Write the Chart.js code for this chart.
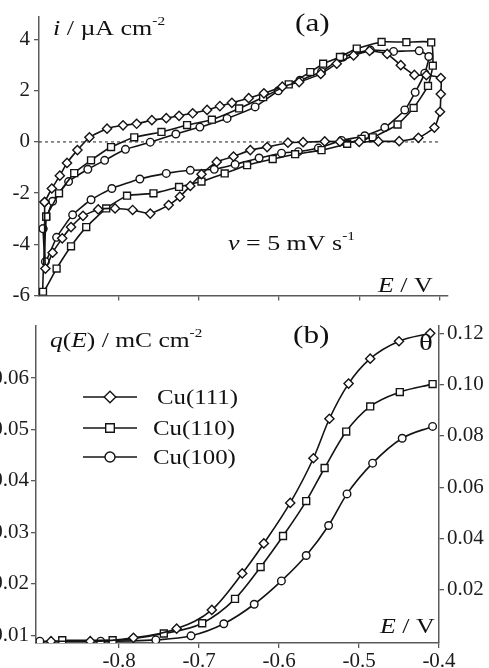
<!DOCTYPE html>
<html>
<head>
<meta charset="utf-8">
<script src="https://cdn.jsdelivr.net/npm/chart.js@4.4.0/dist/chart.umd.min.js"></script>
<style>
    html, body { margin: 0; padding: 0; background: #fff; width: 489px; height: 668px; overflow: hidden; }
    canvas { position: absolute; left: 0; }
</style>
</head>
<body>
<canvas id="ChartA" width="489" height="312" style="top:0"></canvas>
<canvas id="ChartB" width="489" height="358" style="top:310px"></canvas>
<script>
// (a) cyclic voltammograms, E in V, i in uA cm-2 (anodic sweep then cathodic sweep)
var cu111E_a = [-0.893, -0.884, -0.874, -0.865, -0.852, -0.837, -0.815, -0.795, -0.778, -0.759, -0.741, -0.725, -0.708, -0.690, -0.674, -0.659, -0.638, -0.619, -0.596, -0.575, -0.548, -0.528, -0.507, -0.487, -0.465, -0.448, -0.431, -0.416, -0.398,
    -0.398, -0.399, -0.406, -0.426, -0.450, -0.476, -0.500, -0.524, -0.543, -0.570, -0.589, -0.615, -0.636, -0.657, -0.678, -0.697, -0.711, -0.724, -0.738, -0.761, -0.783, -0.805, -0.826, -0.845, -0.860, -0.871, -0.883, -0.892];
var cu111I_a = [-2.35, -1.82, -1.32, -0.82, -0.32, 0.18, 0.52, 0.65, 0.71, 0.85, 0.93, 1.02, 1.12, 1.25, 1.40, 1.53, 1.71, 1.90, 2.16, 2.34, 2.66, 3.06, 3.38, 3.56, 3.44, 3.00, 2.62, 2.61, 2.50,
    1.87, 1.18, 0.56, 0.16, 0.03, 0.02, 0.00, 0.01, 0.02, -0.01, -0.03, -0.20, -0.32, -0.57, -0.78, -1.26, -1.72, -2.14, -2.47, -2.80, -2.66, -2.60, -2.64, -2.89, -3.33, -3.77, -4.33, -4.95];

var cu110E_a = [-0.891, -0.875, -0.856, -0.835, -0.810, -0.781, -0.747, -0.715, -0.684, -0.650, -0.620, -0.588, -0.561, -0.545, -0.524, -0.503, -0.472, -0.441, -0.410,
    -0.408, -0.414, -0.432, -0.452, -0.483, -0.497, -0.515, -0.547, -0.580, -0.608, -0.640, -0.668, -0.697, -0.725, -0.757, -0.790, -0.816, -0.841, -0.860, -0.878, -0.895];
var cu110I_a = [-2.92, -2.01, -1.22, -0.72, -0.20, 0.18, 0.39, 0.66, 0.87, 1.31, 1.75, 2.25, 2.73, 3.06, 3.32, 3.65, 3.91, 3.90, 3.89,
    2.98, 2.19, 1.33, 0.68, 0.18, 0.12, -0.07, -0.32, -0.48, -0.67, -0.91, -1.23, -1.55, -1.76, -2.01, -2.10, -2.60, -3.33, -4.08, -4.95, -5.86];

var cu100E_a = [-0.895, -0.883, -0.863, -0.839, -0.818, -0.792, -0.761, -0.729, -0.699, -0.665, -0.630, -0.601, -0.574, -0.547, -0.520, -0.486, -0.457, -0.425,
    -0.413, -0.418, -0.430, -0.443, -0.468, -0.493, -0.522, -0.551, -0.576, -0.597, -0.625, -0.655, -0.681, -0.711, -0.741, -0.774, -0.809, -0.835, -0.858, -0.878, -0.892];
var cu100I_a = [-3.39, -2.32, -1.55, -1.07, -0.72, -0.29, -0.01, 0.31, 0.58, 0.92, 1.37, 2.00, 2.41, 2.75, 3.32, 3.59, 3.54, 3.56,
    3.34, 2.69, 1.94, 1.25, 0.56, 0.24, 0.06, -0.24, -0.38, -0.44, -0.63, -0.88, -1.07, -1.11, -1.23, -1.45, -1.82, -2.26, -2.85, -3.73, -4.68];

// (b) charge / coverage curves, E in V, theta
var cu111E_b = [-0.885, -0.836, -0.782, -0.728, -0.684, -0.646, -0.619, -0.586, -0.557, -0.537, -0.513, -0.486, -0.450, -0.411];
var cu111T_b = [0.000, 0.000, 0.0013, 0.0049, 0.0122, 0.0264, 0.0381, 0.0539, 0.0713, 0.0867, 0.1004, 0.1101, 0.1169, 0.1200];
var cu110E_b = [-0.871, -0.808, -0.744, -0.696, -0.655, -0.623, -0.595, -0.566, -0.543, -0.516, -0.486, -0.449, -0.408];
var cu110T_b = [0.0004, 0.0004, 0.003, 0.007, 0.0165, 0.0289, 0.041, 0.0546, 0.0675, 0.0817, 0.0915, 0.0971, 0.1002];
var cu100E_b = [-0.899, -0.823, -0.754, -0.710, -0.669, -0.631, -0.597, -0.566, -0.538, -0.515, -0.483, -0.446, -0.408];
var cu100T_b = [0.000, 0.000, 0.0005, 0.0021, 0.0068, 0.0144, 0.0235, 0.0334, 0.0451, 0.0574, 0.0694, 0.0791, 0.0837];

var seriesNames = ['Cu(111)', 'Cu(110)', 'Cu(100)'];
var xTicks = [-0.8, -0.7, -0.6, -0.5, -0.4];
var iTicks = [-6, -4, -2, 0, 2, 4];
var qTicks = [0.01, 0.02, 0.03, 0.04, 0.05, 0.06];
var thetaTicks = [0.02, 0.04, 0.06, 0.08, 0.10, 0.12];

var FONT = '"Liberation Serif", "Times New Roman", serif';
var ink = '#141414';
var axisColor = '#5a5a5a';
var styles = ['rectRot', 'rect', 'circle'];
var radii = [4.6, 4.9, 3.8];

function toPoints(xs, ys) {
    return xs.map(function (x, k) { return { x: x, y: ys[k] }; });
}

function fixTicks(list) {
    return function (scale) {
        scale.ticks = list.map(function (v) { return { value: v }; });
    };
}

function seriesSet(points, k, tension, yAxis) {
    var ds = {
        label: seriesNames[k],
        data: points,
        showLine: true,
        borderColor: ink,
        borderWidth: 1.6,
        pointStyle: styles[k],
        pointRadius: radii[k],
        pointBackgroundColor: '#fff',
        pointBorderColor: ink,
        pointBorderWidth: 1.4,
        tension: tension
    };
    if (yAxis) ds.yAxisID = yAxis;
    return ds;
}

function marker(ctx, style, r, x, y) {
    ctx.beginPath();
    if (style === 'circle') {
        ctx.arc(x, y, r, 0, Math.PI * 2);
    } else if (style === 'rect') {
        var s = r * Math.SQRT1_2;
        ctx.rect(x - s, y - s, 2 * s, 2 * s);
    } else {
        ctx.moveTo(x, y - r); ctx.lineTo(x + r, y); ctx.lineTo(x, y + r); ctx.lineTo(x - r, y); ctx.closePath();
    }
    ctx.fillStyle = '#fff';
    ctx.fill();
    ctx.lineWidth = 1.4;
    ctx.strokeStyle = ink;
    ctx.stroke();
}

// text made of plain / italic / superscript pieces, stretched sideways like the original
function drawRich(ctx, x, y, parts, size, sx) {
    var cx = 0;
    ctx.save();
    ctx.translate(x, y);
    ctx.scale(sx || 1, 1);
    ctx.textBaseline = 'alphabetic';
    ctx.textAlign = 'left';
    ctx.fillStyle = '#111';
    parts.forEach(function (p) {
        var fs = p.sup ? Math.round(size * 0.6) : size;
        ctx.font = (p.it ? 'italic ' : '') + fs + 'px ' + FONT;
        ctx.fillText(p.t, cx, p.sup ? -size * 0.45 : 0);
        cx += ctx.measureText(p.t).width;
    });
    ctx.restore();
}

var textPlugin = {
    id: 'texts',
    afterDraw: function (chart, args, opts) {
        var ctx = chart.ctx;
        ctx.save();
        (opts.items || []).forEach(function (it) { drawRich(ctx, it.x, it.y, it.parts, it.size, it.sx); });
        (opts.legend || []).forEach(function (row, k) {
            ctx.beginPath();
            ctx.moveTo(83, row.y);
            ctx.lineTo(137, row.y);
            ctx.lineWidth = 1.6;
            ctx.strokeStyle = ink;
            ctx.stroke();
            marker(ctx, styles[k], radii[k] + 1.2, 110, row.y);
            drawRich(ctx, row.tx, row.y + 7, [{ t: seriesNames[k] }], 22, 1.13);
        });
        ctx.restore();
    }
};

function axis(extra) {
    var base = {
        type: 'linear',
        border: { display: true, color: axisColor, width: 1.5 },
        grid: { drawOnChartArea: false, drawTicks: true, tickLength: 5, color: axisColor, lineWidth: 1.3 },
        ticks: { color: '#1c1c1c', font: { family: FONT, size: 21 }, padding: 4 }
    };
    return Object.assign(base, extra);
}

// ---- panel (a)
var ctxA = document.getElementById('ChartA').getContext('2d');
var chartA = new Chart(ctxA, {
    type: 'scatter',
    data: {
        datasets: [
            seriesSet(toPoints(cu111E_a, cu111I_a).concat([{ x: cu111E_a[0], y: cu111I_a[0] }]), 0, 0.15),
            seriesSet(toPoints(cu110E_a, cu110I_a).concat([{ x: cu110E_a[0], y: cu110I_a[0] }]), 1, 0.15),
            seriesSet(toPoints(cu100E_a, cu100I_a).concat([{ x: cu100E_a[0], y: cu100I_a[0] }]), 2, 0.15),
            {
                data: [{ x: -0.9, y: 0 }, { x: -0.4, y: 0 }],
                showLine: true, borderColor: '#222', borderWidth: 1, borderDash: [3, 3], pointRadius: 0
            }
        ]
    },
    options: {
        responsive: false,
        animation: false,
        layout: { padding: { top: 10, right: 41, left: 0, bottom: 0 } },
        plugins: {
            legend: { display: false },
            tooltip: { enabled: false },
            texts: {
                items: [
                    { x: 53, y: 35, size: 22, sx: 1.18, parts: [{ t: 'i', it: 1 }, { t: ' / µA cm' }, { t: '-2', sup: 1 }] },
                    { x: 295, y: 31, size: 25, sx: 1.25, parts: [{ t: '(a)' }] },
                    { x: 228, y: 250, size: 22, sx: 1.18, parts: [{ t: 'v', it: 1 }, { t: ' = 5 mV s' }, { t: '-1', sup: 1 }] },
                    { x: 378, y: 292, size: 22, sx: 1.18, parts: [{ t: 'E', it: 1 }, { t: ' / V' }] }
                ]
            }
        },
        scales: {
            x: axis({
                min: -0.9, max: -0.389,
                ticks: { display: false },
                afterBuildTicks: fixTicks(xTicks),
                afterFit: function (s) { s.height = 12; }
            }),
            y: axis({
                min: -6, max: 4.9,
                afterBuildTicks: fixTicks(iTicks),
                afterFit: function (s) { s.width = 39; }
            })
        }
    },
    plugins: [textPlugin]
});

// ---- panel (b)
var ctxB = document.getElementById('ChartB').getContext('2d');
var chartB = new Chart(ctxB, {
    type: 'scatter',
    data: {
        datasets: [
            seriesSet(toPoints(cu111E_b, cu111T_b), 0, 0.4, 'y1'),
            seriesSet(toPoints(cu110E_b, cu110T_b), 1, 0.4, 'y1'),
            seriesSet(toPoints(cu100E_b, cu100T_b), 2, 0.4, 'y1')
        ]
    },
    options: {
        responsive: false,
        animation: false,
        datasets: { scatter: { cubicInterpolationMode: 'monotone' } },
        layout: { padding: { top: 7, right: 0, left: 0, bottom: 0 } },
        plugins: {
            legend: { display: false },
            tooltip: { enabled: false },
            texts: {
                items: [
                    { x: 50, y: 37, size: 22, sx: 1.16, parts: [{ t: 'q', it: 1 }, { t: '(' }, { t: 'E', it: 1 }, { t: ') / mC cm' }, { t: '-2', sup: 1 }] },
                    { x: 293, y: 33, size: 25, sx: 1.25, parts: [{ t: '(b)' }] },
                    { x: 419, y: 40, size: 24, sx: 1.2, parts: [{ t: 'θ' }] },
                    { x: 380, y: 323, size: 22, sx: 1.18, parts: [{ t: 'E', it: 1 }, { t: ' / V' }] }
                ],
                legend: [{ y: 87, tx: 157 }, { y: 118, tx: 153 }, { y: 147, tx: 153 }]
            }
        },
        scales: {
            x: axis({
                min: -0.9038, max: -0.4,
                afterBuildTicks: fixTicks(xTicks),
                ticks: { color: '#1c1c1c', font: { family: FONT, size: 21 }, padding: 1, callback: function (v) { return v.toFixed(1); } },
                afterFit: function (s) { s.height = 25; }
            }),
            y: axis({
                position: 'left',
                min: 0.0085, max: 0.0702,
                afterBuildTicks: fixTicks(qTicks),
                ticks: { color: '#1c1c1c', font: { family: FONT, size: 21 }, padding: 2, callback: function (v) { return v.toFixed(2); } },
                afterFit: function (s) { s.width = 36; }
            }),
            y1: axis({
                position: 'right',
                min: -0.0007, max: 0.123,
                afterBuildTicks: fixTicks(thetaTicks),
                ticks: { color: '#1c1c1c', font: { family: FONT, size: 21 }, padding: 3, callback: function (v) { return v.toFixed(2); } },
                afterFit: function (s) { s.width = 50; }
            })
        }
    },
    plugins: [textPlugin]
});
</script>
</body>
</html>
